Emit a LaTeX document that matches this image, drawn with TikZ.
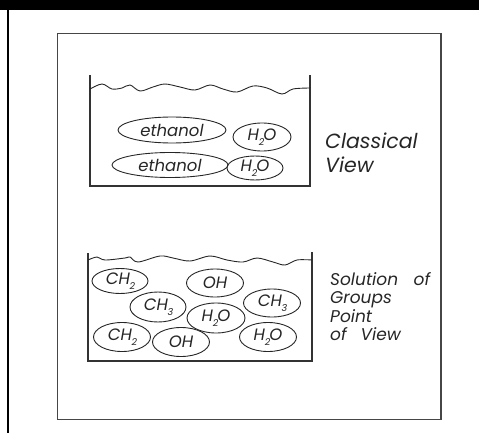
\documentclass[tikz,border=0pt]{standalone}
\usepackage{fontspec}
\setmainfont{Poppins}
\usetikzlibrary{shapes.geometric}
\newcommand\subn[1]{\kern-0.02em\raisebox{-0.28em}{\fontsize{9.5}{9.5}\selectfont #1}\kern-0.06em}
\newcommand\molfont{\fontsize{16.5}{18}\selectfont\itshape}
\begin{document}
\begin{tikzpicture}[x=1pt,y=-1pt,
  mol/.style={ellipse, draw=black!85, line width=0.9pt, inner sep=0pt, font=\molfont, text=black!85},
  beaker/.style={draw=black!80, line width=1.1pt},
  wave/.style={draw=black!85, line width=0.9pt},
  lbl/.style={anchor=base west, inner sep=0pt, text=black!85}]
\useasboundingbox (0,0) rectangle (479,433);
\fill[black] (0,0) rectangle (479,10);
\draw[black, line width=2.2pt] (8,10) -- (8,433);
\draw[gray!55!black, line width=1.3pt] (57.7,33.5) rectangle (441,419.3);
% top beaker
\draw[beaker] (90,75) -- (90,186) -- (310,186) -- (310,75);
\draw[wave] plot[smooth, tension=0.55] coordinates {(90,89) (102,84) (112,89) (122,88) (130,85) (140,91) (153,87) (165,84) (180,87) (195,90) (210,85) (223,89) (237,92) (253,86) (267,88) (282,94) (293,89) (310,88)};
\node[mol, minimum width=108pt, minimum height=26pt] (e1) at (172,130) {ethanol};
\node[mol, minimum width=58pt, minimum height=28pt] (w1) at (262,137) {H\subn{2}O};
\node[mol, minimum width=116pt, minimum height=25pt] (e2) at (170,165) {ethanol};
\node[mol, minimum width=56pt, minimum height=24pt] (w2) at (255,168) {H\subn{2}O};
\node[lbl, font=\fontsize{20.5}{24}\selectfont\itshape] (cv1) at (325,148) {Classical};
\node[lbl, font=\fontsize{20.5}{24}\selectfont\itshape] (cv2) at (325,172) {View};
% bottom beaker
\draw[beaker] (88,253) -- (88,361) -- (312,361) -- (312,252);
\draw[wave] plot[smooth, tension=0.55] coordinates {(88,260) (97,257) (105,260) (125,258) (130,257) (138,262) (160,256) (173,258) (190,261) (210,256) (227,260) (243,262) (257,258) (273,262) (285,265) (297,260) (312,260)};
\node[mol, minimum width=56pt, minimum height=25pt] (g1) at (120,281) {CH\subn{2}};
\node[mol, minimum width=57pt, minimum height=28pt] (g2) at (215,283) {OH};
\node[mol, minimum width=56pt, minimum height=30pt] (g3) at (158,307) {CH\subn{3}};
\node[mol, minimum width=57pt, minimum height=28pt] (g4) at (272,303) {CH\subn{3}};
\node[mol, minimum width=58pt, minimum height=30pt, fill=white] (g5) at (216,318) {H\subn{2}O};
\node[mol, minimum width=57pt, minimum height=29pt] (g6) at (122,337) {CH\subn{2}};
\node[mol, minimum width=57pt, minimum height=29pt, fill=white] (g7) at (181,342) {OH};
\node[mol, minimum width=57pt, minimum height=29pt] (g8) at (268,337) {H\subn{2}O};
\node[lbl, font=\fontsize{17}{18}\selectfont\itshape] (s1) at (330,285) {\makebox[100pt][s]{Solution of}};
\node[lbl, font=\fontsize{17}{18}\selectfont\itshape] (s2) at (330,303) {Groups};
\node[lbl, font=\fontsize{17}{18}\selectfont\itshape] (s3) at (330,322) {Point};
\node[lbl, font=\fontsize{17}{18}\selectfont\itshape] (s4) at (330,340) {of\hspace{14pt}View};
\end{tikzpicture}
\end{document}
